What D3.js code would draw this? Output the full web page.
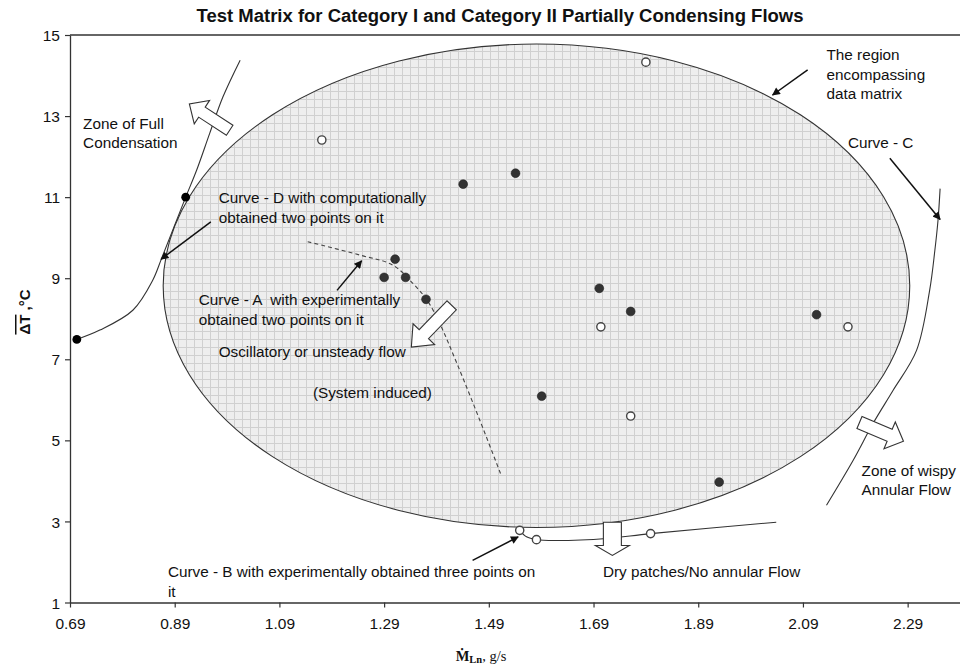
<!DOCTYPE html>
<html>
<head>
<meta charset="utf-8">
<script src="https://cdn.jsdelivr.net/npm/d3@7"></script>
<style>
  html, body { margin: 0; padding: 0; background: #fff; }
  svg { display: block; }
  text { font-family: "Liberation Sans", Arial, sans-serif; fill: #111; }
</style>
</head>
<body>
<svg id="chart" width="960" height="668"></svg>
<script>
// ---- axis ticks ----
const xTicks = [0.69, 0.89, 1.09, 1.29, 1.49, 1.69, 1.89, 2.09, 2.29];
const yTicks = [1, 3, 5, 7, 9, 11, 13, 15];

// ---- test points (filled markers) ----
const solidX = [1.441, 1.541, 1.311, 1.290, 1.331, 1.370, 1.701, 1.761, 1.591, 2.116, 1.930];
const solidY = [11.32, 11.59, 9.47, 9.02, 9.02, 8.48, 8.75, 8.18, 6.09, 8.10, 3.97];

// ---- test points (open markers) ----
const hollowX = [1.171, 1.790, 1.704, 2.176, 1.761, 1.549, 1.581, 1.799];
const hollowY = [12.41, 14.33, 7.80, 7.80, 5.60, 2.78, 2.55, 2.70];

// ---- computed points on curve D ----
const curveDPointX = [0.703, 0.911];
const curveDPointY = [7.49, 11.00];

// ---- curve D: full condensation boundary ----
const curveDX = [0.703, 0.747, 0.810, 0.848, 0.865, 0.911, 0.932, 0.957, 0.982, 1.015];
const curveDY = [7.49, 7.72, 8.21, 8.95, 9.49, 11.00, 11.67, 12.58, 13.47, 14.38];

// ---- curve A: oscillatory flow boundary (dashed) ----
const curveAX = [1.144, 1.244, 1.307, 1.345, 1.372, 1.396, 1.429, 1.473, 1.513];
const curveAY = [9.90, 9.57, 9.32, 8.87, 8.46, 7.89, 6.90, 5.49, 4.16];

// ---- curve B: dry patch boundary ----
const curveBX = [1.549, 1.562, 1.581, 1.619, 1.715, 1.799, 2.039];
const curveBY = [2.78, 2.62, 2.55, 2.53, 2.58, 2.70, 2.98];

// ---- curve C: wispy annular boundary ----
const curveCX = [2.352, 2.348, 2.342, 2.332, 2.307, 2.262, 2.224, 2.186, 2.135];
const curveCY = [11.21, 10.43, 9.69, 8.70, 7.22, 6.23, 5.42, 4.51, 3.40];

// ---- region covered by the data matrix (ellipse centre and half-axes) ----
const regionCentre = [1.581, 8.815];
const regionHalfAxes = [0.713, 5.963];

// ---- chart geometry ----
const width = 960, height = 668;
const plot = { left: 70, right: 960, top: 35, bottom: 602.5 };

const svg = d3.select("#chart");
const x = d3.scaleLinear().domain([0.69, 2.39]).range([plot.left, plot.right]);
const y = d3.scaleLinear().domain([1, 15]).range([plot.bottom, plot.top]);

const zip = (xs, ys) => xs.map((v, i) => [v, ys[i]]);
const P = d => [x(d[0]), y(d[1])];

// grid pattern that fills the data-matrix region
const defs = svg.append("defs");
const pat = defs.append("pattern")
  .attr("id", "grid").attr("patternUnits", "userSpaceOnUse")
  .attr("width", 8).attr("height", 8).attr("x", 2).attr("y", 3);
pat.append("rect").attr("width", 8).attr("height", 8).attr("fill", "#eeeeee");
pat.append("path").attr("d", "M0,0.5H8M0.5,0V8")
  .attr("stroke", "#d0d0d0").attr("stroke-width", 1).attr("fill", "none");

// arrowhead for pointer lines
defs.append("marker")
  .attr("id", "head").attr("viewBox", "0 0 10 10")
  .attr("refX", 9).attr("refY", 5)
  .attr("markerWidth", 10).attr("markerHeight", 8)
  .attr("markerUnits", "userSpaceOnUse")
  .attr("orient", "auto")
  .append("path").attr("d", "M0,0L10,5L0,10Z").attr("fill", "#111");

// ---- region ellipse ----
svg.append("ellipse")
  .attr("cx", x(regionCentre[0]))
  .attr("cy", y(regionCentre[1]))
  .attr("rx", x(regionCentre[0] + regionHalfAxes[0]) - x(regionCentre[0]))
  .attr("ry", y(regionCentre[1] - regionHalfAxes[1]) - y(regionCentre[1]))
  .attr("fill", "url(#grid)")
  .attr("stroke", "#333").attr("stroke-width", 1.1);

// ---- axes ----
const xAxis = d3.axisBottom(x).tickValues(xTicks).tickFormat(d3.format(".2f"))
  .tickSizeInner(5).tickSizeOuter(0).tickPadding(10);
const yAxis = d3.axisLeft(y).tickValues(yTicks).tickFormat(d3.format("d"))
  .tickSizeInner(5).tickSizeOuter(0).tickPadding(5);

const gx = svg.append("g").attr("transform", `translate(0,${plot.bottom})`).call(xAxis);
const gy = svg.append("g").attr("transform", `translate(${plot.left},0)`).call(yAxis);
[gx, gy].forEach(g => {
  g.select(".domain").attr("stroke", "#333").attr("stroke-width", 1.3);
  g.selectAll(".tick line").attr("stroke", "#333").attr("stroke-width", 1.2);
  g.selectAll(".tick text")
    .attr("font-family", "'Liberation Sans', Arial, sans-serif")
    .attr("font-size", 15.5).attr("fill", "#111");
});
gy.selectAll(".tick text").attr("dy", "0.36em");

// top frame line
svg.append("line")
  .attr("x1", plot.left).attr("x2", plot.right)
  .attr("y1", plot.top).attr("y2", plot.top)
  .attr("stroke", "#333").attr("stroke-width", 1.3);

// ---- boundary curves ----
const line = d3.line().x(d => x(d[0])).y(d => y(d[1])).curve(d3.curveCatmullRom.alpha(0.5));

svg.append("path").attr("d", line(zip(curveDX, curveDY)))
  .attr("fill", "none").attr("stroke", "#333").attr("stroke-width", 1.1);
svg.append("path").attr("d", line(zip(curveAX, curveAY)))
  .attr("fill", "none").attr("stroke", "#444").attr("stroke-width", 1.1)
  .attr("stroke-dasharray", "4,3");
svg.append("path").attr("d", line(zip(curveBX, curveBY)))
  .attr("fill", "none").attr("stroke", "#333").attr("stroke-width", 1.1);
svg.append("path").attr("d", line(zip(curveCX, curveCY)))
  .attr("fill", "none").attr("stroke", "#333").attr("stroke-width", 1.1);

// ---- markers ----
svg.append("g").selectAll("circle").data(zip(solidX, solidY)).join("circle")
  .attr("cx", d => x(d[0])).attr("cy", d => y(d[1])).attr("r", 4.4)
  .attr("fill", "#333").attr("stroke", "#222").attr("stroke-width", 0.6);

svg.append("g").selectAll("circle").data(zip(hollowX, hollowY)).join("circle")
  .attr("cx", d => x(d[0])).attr("cy", d => y(d[1])).attr("r", 4.1)
  .attr("fill", "#fff").attr("stroke", "#444").attr("stroke-width", 1.4);

svg.append("g").selectAll("circle").data(zip(curveDPointX, curveDPointY)).join("circle")
  .attr("cx", d => x(d[0])).attr("cy", d => y(d[1])).attr("r", 4.4)
  .attr("fill", "#000");

// ---- hollow block arrows marking flow zones ----
function blockArrow(tail, tip, shaftW, headW, headL) {
  const [tx, ty] = P(tail), [px, py] = P(tip);
  const dx = px - tx, dy = py - ty, L = Math.hypot(dx, dy);
  const ux = dx / L, uy = dy / L, nx = -uy, ny = ux;
  const bx = px - ux * headL, by = py - uy * headL;
  const pts = [
    [tx + nx * shaftW / 2, ty + ny * shaftW / 2],
    [bx + nx * shaftW / 2, by + ny * shaftW / 2],
    [bx + nx * headW / 2, by + ny * headW / 2],
    [px, py],
    [bx - nx * headW / 2, by - ny * headW / 2],
    [bx - nx * shaftW / 2, by - ny * shaftW / 2],
    [tx - nx * shaftW / 2, ty - ny * shaftW / 2]
  ];
  svg.append("path").attr("d", "M" + pts.map(p => p.join(",")).join("L") + "Z")
    .attr("fill", "#fff").attr("stroke", "#333").attr("stroke-width", 1.1)
    .attr("stroke-linejoin", "miter");
}
blockArrow([0.995, 12.65], [0.918, 13.30], 12, 28, 15);   // full condensation
blockArrow([1.419, 8.33], [1.342, 7.30], 13, 30, 18);     // oscillatory flow
blockArrow([2.198, 5.44], [2.282, 4.98], 13, 29, 15);     // wispy annular flow
blockArrow([1.726, 2.98], [1.726, 2.16], 18, 34, 10);     // dry patches

// ---- pointer arrows from labels ----
const pointers = [
  [[2.099, 14.14], [2.032, 13.52]],
  [[2.256, 11.96], [2.352, 10.45]],
  [[0.959, 10.39], [0.864, 9.47]],
  [[1.200, 8.70], [1.247, 9.43]],
  [[1.459, 2.04], [1.546, 2.62]]
];
svg.append("g").selectAll("line").data(pointers).join("line")
  .attr("x1", d => x(d[0][0])).attr("y1", d => y(d[0][1]))
  .attr("x2", d => x(d[1][0])).attr("y2", d => y(d[1][1]))
  .attr("stroke", "#111").attr("stroke-width", 1.5)
  .attr("marker-end", "url(#head)");

// ---- text annotations ----
const notes = [
  { at: [0.715, 12.82], lines: ["Zone of Full", "Condensation"] },
  { at: [2.135, 14.51], lines: ["The region", "encompassing", "data matrix"] },
  { at: [2.176, 12.34], lines: ["Curve - C"] },
  { at: [0.974, 10.98], lines: ["Curve - D with computationally", "obtained two points on it"] },
  { at: [0.936, 8.46], lines: ["Curve - A  with experimentally", "obtained two points on it"] },
  { at: [0.974, 7.18], lines: ["Oscillatory or unsteady flow"] },
  { at: [1.154, 6.17], lines: ["(System induced)"] },
  { at: [2.202, 4.26], lines: ["Zone of wispy", "Annular Flow"] },
  { at: [0.877, 1.75], lines: ["Curve - B with experimentally obtained three points on", "it"] },
  { at: [1.708, 1.75], lines: ["Dry patches/No annular Flow"] }
];
notes.forEach(n => {
  const t = svg.append("text")
    .attr("x", x(n.at[0])).attr("y", y(n.at[1]))
    .attr("font-size", 15.3)
    .style("white-space", "pre");
  n.lines.forEach((s, i) => {
    t.append("tspan").attr("x", x(n.at[0])).attr("dy", i === 0 ? "0.35em" : 19.3).text(s);
  });
});

// ---- title ----
svg.append("text")
  .attr("x", 500).attr("y", 22)
  .attr("text-anchor", "middle")
  .attr("font-size", 18).attr("font-weight", "bold")
  .attr("textLength", 607).attr("lengthAdjust", "spacingAndGlyphs")
  .text("Test Matrix for Category I and Category II Partially Condensing Flows");

// ---- axis titles ----
const yl = svg.append("text")
  .attr("transform", "translate(30,312) rotate(-90)")
  .attr("text-anchor", "middle")
  .attr("font-size", 15).attr("font-weight", "bold");
yl.append("tspan").style("text-decoration", "overline").text("ΔT");
yl.append("tspan").text(" ,°C");

const xl = svg.append("text")
  .attr("x", 481).attr("y", 661)
  .attr("text-anchor", "middle")
  .style("font-family", "'Liberation Serif', 'DejaVu Serif', serif")
  .attr("font-size", 14.5).attr("font-weight", "bold");
xl.append("tspan").text("Ṁ");
xl.append("tspan").attr("font-size", 10.5).attr("dy", 2).text("Ln");
xl.append("tspan").attr("dy", -2).attr("font-weight", "normal").text(", g/s");
</script>
</body>
</html>
